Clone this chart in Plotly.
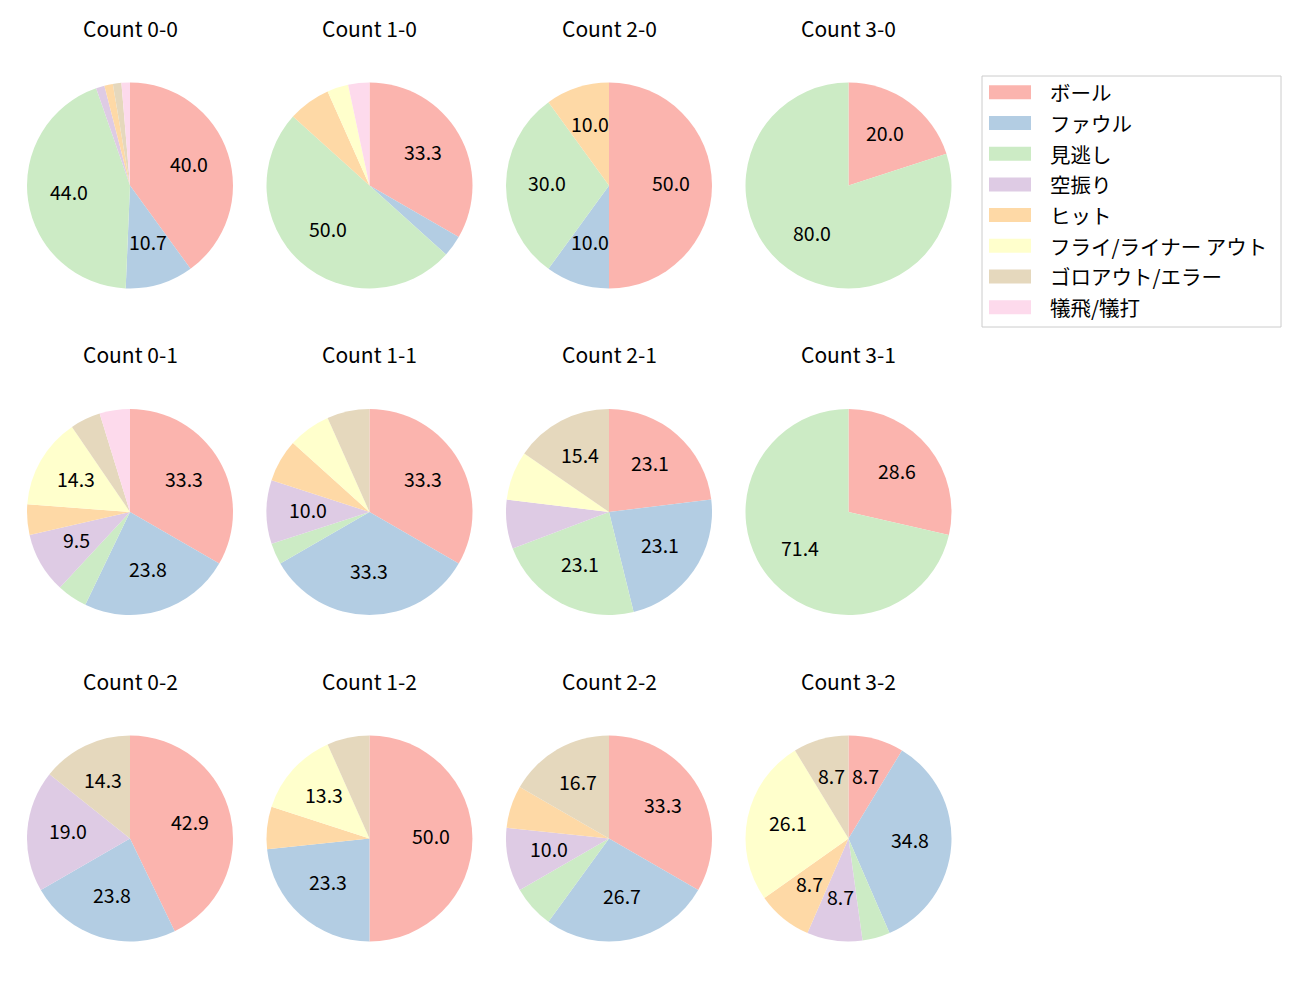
import math
import plotly.graph_objects as go

# ---------------- data ----------------
labels = ["ボール", "ファウル", "見逃し", "空振り", "ヒット",
          "フライ/ライナー アウト", "ゴロアウト/エラー", "犠飛/犠打"]
colors = ["#fbb4ae", "#b3cde3", "#ccebc5", "#decbe4",
          "#fed9a6", "#ffffcc", "#e5d8bd", "#fddaec"]

titles = ["Count 0-0", "Count 1-0", "Count 2-0", "Count 3-0",
          "Count 0-1", "Count 1-1", "Count 2-1", "Count 3-1",
          "Count 0-2", "Count 1-2", "Count 2-2", "Count 3-2"]

count_00 = [30, 8, 33, 1, 1, 0, 1, 1]
count_10 = [10, 1, 15, 0, 2, 1, 0, 1]
count_20 = [5, 1, 3, 0, 1, 0, 0, 0]
count_30 = [1, 0, 4, 0, 0, 0, 0, 0]
count_01 = [7, 5, 1, 2, 1, 3, 1, 1]
count_11 = [10, 10, 1, 3, 2, 2, 2, 0]
count_21 = [3, 3, 3, 1, 0, 1, 2, 0]
count_31 = [2, 0, 5, 0, 0, 0, 0, 0]
count_02 = [9, 5, 0, 4, 0, 0, 3, 0]
count_12 = [15, 7, 0, 0, 2, 4, 2, 0]
count_22 = [10, 8, 2, 3, 2, 0, 5, 0]
count_32 = [2, 8, 1, 2, 2, 6, 2, 0]

all_counts = [count_00, count_10, count_20, count_30,
              count_01, count_11, count_21, count_31,
              count_02, count_12, count_22, count_32]

# ---------------- layout constants (pixels) ----------------
W, H = 1300, 1000
OFF = 8  # page body margin of the html page
col_x = [130, 369.5, 609, 848.5]
row_y = [185.5, 512, 838.5]
R = 103
LABEL_DIST = 0.6
MIN_PCT = 8.0
FONT = "Noto Sans CJK JP"


def px_to_paper(x, y):
    return (x - OFF) / W, 1 - (y - OFF) / H


fig = go.Figure()
annotations = []
shapes = []

for i, counts in enumerate(all_counts):
    r, c = divmod(i, 4)
    cx, cy = col_x[c], row_y[r]
    labs = [l for l, v in zip(labels, counts) if v > 0]
    vals = [v for v in counts if v > 0]
    cols = [col for col, v in zip(colors, counts) if v > 0]
    dx0, dy0 = px_to_paper(cx - R, cy + R)
    dx1, dy1 = px_to_paper(cx + R, cy - R)
    fig.add_trace(go.Pie(
        labels=labs, values=vals, sort=False, direction="clockwise",
        rotation=0, textinfo="none", showlegend=False,
        marker=dict(colors=cols, line=dict(width=0)),
        domain=dict(x=[dx0, dx1], y=[dy0, dy1]),
    ))
    total = sum(vals)
    cum = 0
    for v in vals:
        pct = 100 * v / total
        mid = (cum + v / 2) / total * 2 * math.pi
        cum += v
        if pct < MIN_PCT:
            continue
        lx = cx + LABEL_DIST * R * math.sin(mid)
        ly = cy - LABEL_DIST * R * math.cos(mid)
        ax, ay = px_to_paper(lx, ly)
        annotations.append(dict(x=ax, y=ay, xref="paper", yref="paper",
                                text=f"{pct:.1f}", showarrow=False,
                                font=dict(size=19.5, color="black", family=FONT),
                                xanchor="center", yanchor="middle", yshift=3))
    tx, ty = px_to_paper(cx, cy - 156.5)
    annotations.append(dict(x=tx, y=ty, xref="paper", yref="paper",
                            text=titles[i], showarrow=False,
                            font=dict(size=21, color="black", family=FONT),
                            xanchor="center", yanchor="middle", yshift=1))

# ---------------- manual legend ----------------
LEG_L, LEG_T, LEG_R, LEG_B = 982, 76, 1281, 327
x0, y0 = px_to_paper(LEG_L, LEG_T)
x1, y1 = px_to_paper(LEG_R, LEG_B)
shapes.append(dict(type="rect", xref="paper", yref="paper",
                   x0=x0, y0=y1, x1=x1, y1=y0,
                   line=dict(color="#cccccc", width=1), fillcolor="white"))
ROW0, ROW_STEP = 92.3, 30.7
for k, (lab, col) in enumerate(zip(labels, colors)):
    yc = ROW0 + k * ROW_STEP
    px0, py0 = px_to_paper(989, yc - 7)
    px1, py1 = px_to_paper(1031, yc + 7)
    shapes.append(dict(type="rect", xref="paper", yref="paper",
                       x0=px0, y0=py1, x1=px1, y1=py0,
                       line=dict(width=0), fillcolor=col))
    tx, ty = px_to_paper(1047.5, yc)
    annotations.append(dict(x=tx, y=ty, xref="paper", yref="paper",
                            text=lab, showarrow=False,
                            font=dict(size=20.5, color="black", family=FONT),
                            xanchor="left", yanchor="middle"))

fig.update_layout(
    width=W, height=H,
    margin=dict(l=0, r=0, t=0, b=0),
    paper_bgcolor="white", plot_bgcolor="white",
    font=dict(family=FONT),
    annotations=annotations, shapes=shapes,
)

fig.write_html("out.html")
